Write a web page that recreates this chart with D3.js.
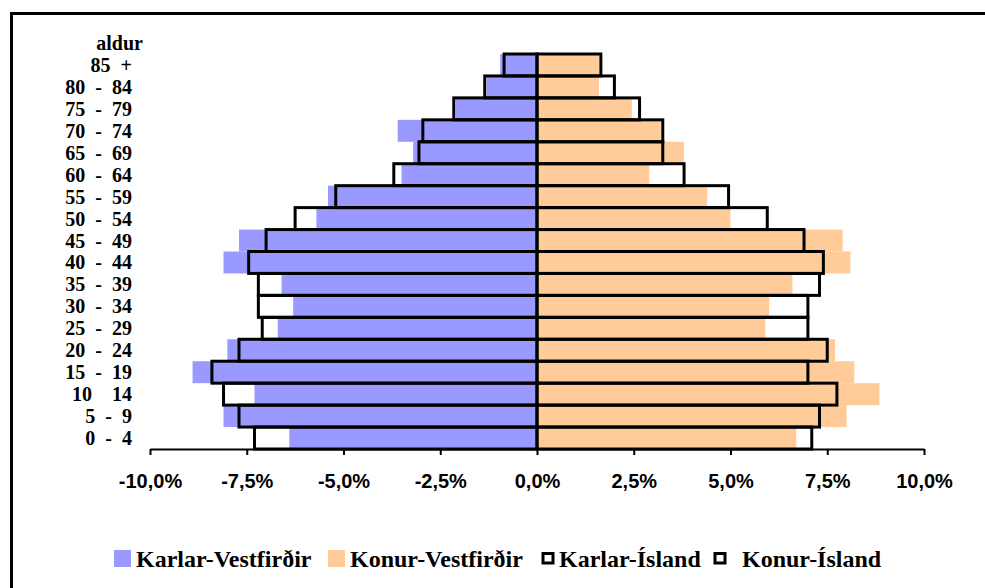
<!DOCTYPE html>
<html>
<head>
<meta charset="utf-8">
<script src="https://cdn.jsdelivr.net/npm/d3@7"></script>
<style>
  body { margin: 0; background: #fff; }
  svg { display: block; }
</style>
</head>
<body>
<div id="chart"></div>
<script>
// age groups, bottom to top
const ages = ["0 - 4", "5 - 9", "10  14", "15 - 19", "20 - 24", "25 - 29", "30 - 34", "35 - 39",
              "40 - 44", "45 - 49", "50 - 54", "55 - 59", "60 - 64", "65 - 69", "70 - 74",
              "75 - 79", "80 - 84", "85 +"];

// share of population in %, same order as ages
const karlarVestfirdir = [6.4, 8.1, 7.3, 8.9, 8.0, 6.7, 6.3, 6.6, 8.1, 7.7, 5.7, 5.4, 3.5, 3.2, 3.6, 2.1, 1.3, 0.95];
const konurVestfirdir  = [6.7, 8.0, 8.85, 8.2, 7.7, 5.9, 6.0, 6.6, 8.1, 7.9, 5.0, 4.4, 2.9, 3.8, 3.2, 2.45, 1.6, 1.6];
const karlarIsland     = [7.3, 7.7, 8.1, 8.4, 7.7, 7.1, 7.2, 7.2, 7.45, 7.0, 6.25, 5.2, 3.7, 3.05, 2.95, 2.15, 1.35, 0.85];
const konurIsland      = [7.1, 7.3, 7.75, 7.0, 7.5, 7.0, 7.0, 7.3, 7.4, 6.9, 5.95, 4.95, 3.8, 3.25, 3.25, 2.65, 2.0, 1.65];

const xTicks = [-10, -7.5, -5, -2.5, 0, 2.5, 5, 7.5, 10];
const legendLabels = ["Karlar-Vestfirðir", "Konur-Vestfirðir", "Karlar-Ísland", "Konur-Ísland"];

const width = 985, height = 588;
const blue = "#9999ff", orange = "#ffcc99";

const svg = d3.select("#chart").append("svg")
    .attr("width", width)
    .attr("height", height);

// outer frame (runs past the right and bottom edge)
svg.append("rect")
    .attr("x", 11.5).attr("y", 13.5)
    .attr("width", 1000).attr("height", 700)
    .attr("fill", "none")
    .attr("stroke", "#000")
    .attr("stroke-width", 3);

const x = d3.scaleLinear().domain([-10, 10]).range([150, 924]);
const y = d3.scaleBand().domain(ages.slice().reverse()).range([54, 449]).padding(0);

const rows = ages.map((a, i) => ({
  age: a,
  kv: karlarVestfirdir[i], nv: konurVestfirdir[i],
  ki: karlarIsland[i], ni: konurIsland[i]
}));

// Vestfirðir filled bars
svg.append("g").selectAll("rect")
    .data(rows).enter().append("rect")
    .attr("x", d => x(-d.kv))
    .attr("y", d => y(d.age))
    .attr("width", d => x(0) - x(-d.kv))
    .attr("height", y.bandwidth())
    .attr("fill", blue);

svg.append("g").selectAll("rect")
    .data(rows).enter().append("rect")
    .attr("x", x(0))
    .attr("y", d => y(d.age))
    .attr("width", d => x(d.nv) - x(0))
    .attr("height", y.bandwidth())
    .attr("fill", orange);

// Ísland outlined bars
svg.append("g").selectAll("rect")
    .data(rows).enter().append("rect")
    .attr("x", d => x(-d.ki))
    .attr("y", d => y(d.age))
    .attr("width", d => x(0) - x(-d.ki))
    .attr("height", y.bandwidth())
    .attr("fill", "none")
    .attr("stroke", "#000")
    .attr("stroke-width", 3);

svg.append("g").selectAll("rect")
    .data(rows).enter().append("rect")
    .attr("x", x(0))
    .attr("y", d => y(d.age))
    .attr("width", d => x(d.ni) - x(0))
    .attr("height", y.bandwidth())
    .attr("fill", "none")
    .attr("stroke", "#000")
    .attr("stroke-width", 3);

// x axis
const fmt = v => v.toFixed(1).replace(".", ",") + "%";
const xAxis = svg.append("g")
    .attr("transform", "translate(0,449)")
    .call(d3.axisBottom(x).tickValues(xTicks).tickSize(6).tickSizeOuter(0).tickFormat(fmt));
xAxis.select(".domain").attr("stroke", "#000").attr("stroke-width", 2);
xAxis.selectAll(".tick line").attr("stroke", "#000").attr("stroke-width", 2);
xAxis.selectAll(".tick text")
    .attr("y", 39).attr("dy", 0)
    .attr("fill", "#000")
    .style("font-family", "'Liberation Sans', Arial, sans-serif")
    .style("font-weight", "bold")
    .style("font-size", "20px");

// age labels
const labelFont = "'Liberation Serif', 'Times New Roman', serif";
svg.append("g").selectAll("text")
    .data(ages).enter().append("text")
    .attr("x", 132)
    .attr("y", d => y(d) + y.bandwidth() / 2 + 7)
    .attr("text-anchor", "end")
    .style("white-space", "pre")
    .style("word-spacing", "5px")
    .style("font-family", labelFont)
    .style("font-weight", "bold")
    .style("font-size", "20px")
    .text(d => d);

svg.append("text")
    .attr("x", 143)
    .attr("y", y("85 +") - y.bandwidth() / 2 + 7)
    .attr("text-anchor", "end")
    .style("font-family", labelFont)
    .style("font-weight", "bold")
    .style("font-size", "20px")
    .text("aldur");

// legend
const legendX = [114, 328, 541.5, 713.5];
const textX = [136, 350, 559, 742];
const lg = svg.append("g");
legendLabels.forEach((lab, i) => {
  if (i < 2) {
    lg.append("rect")
      .attr("x", legendX[i]).attr("y", 550)
      .attr("width", 17).attr("height", 17)
      .attr("fill", i === 0 ? blue : orange);
  } else {
    lg.append("rect")
      .attr("x", legendX[i] + 1.5).attr("y", 553.5)
      .attr("width", 10).attr("height", 9.5)
      .attr("fill", "#fff")
      .attr("stroke", "#000")
      .attr("stroke-width", 3);
  }
  lg.append("text")
    .attr("x", textX[i]).attr("y", 567)
    .style("font-family", labelFont)
    .style("font-weight", "bold")
    .style("font-size", "24px")
    .text(lab);
});
</script>
</body>
</html>
